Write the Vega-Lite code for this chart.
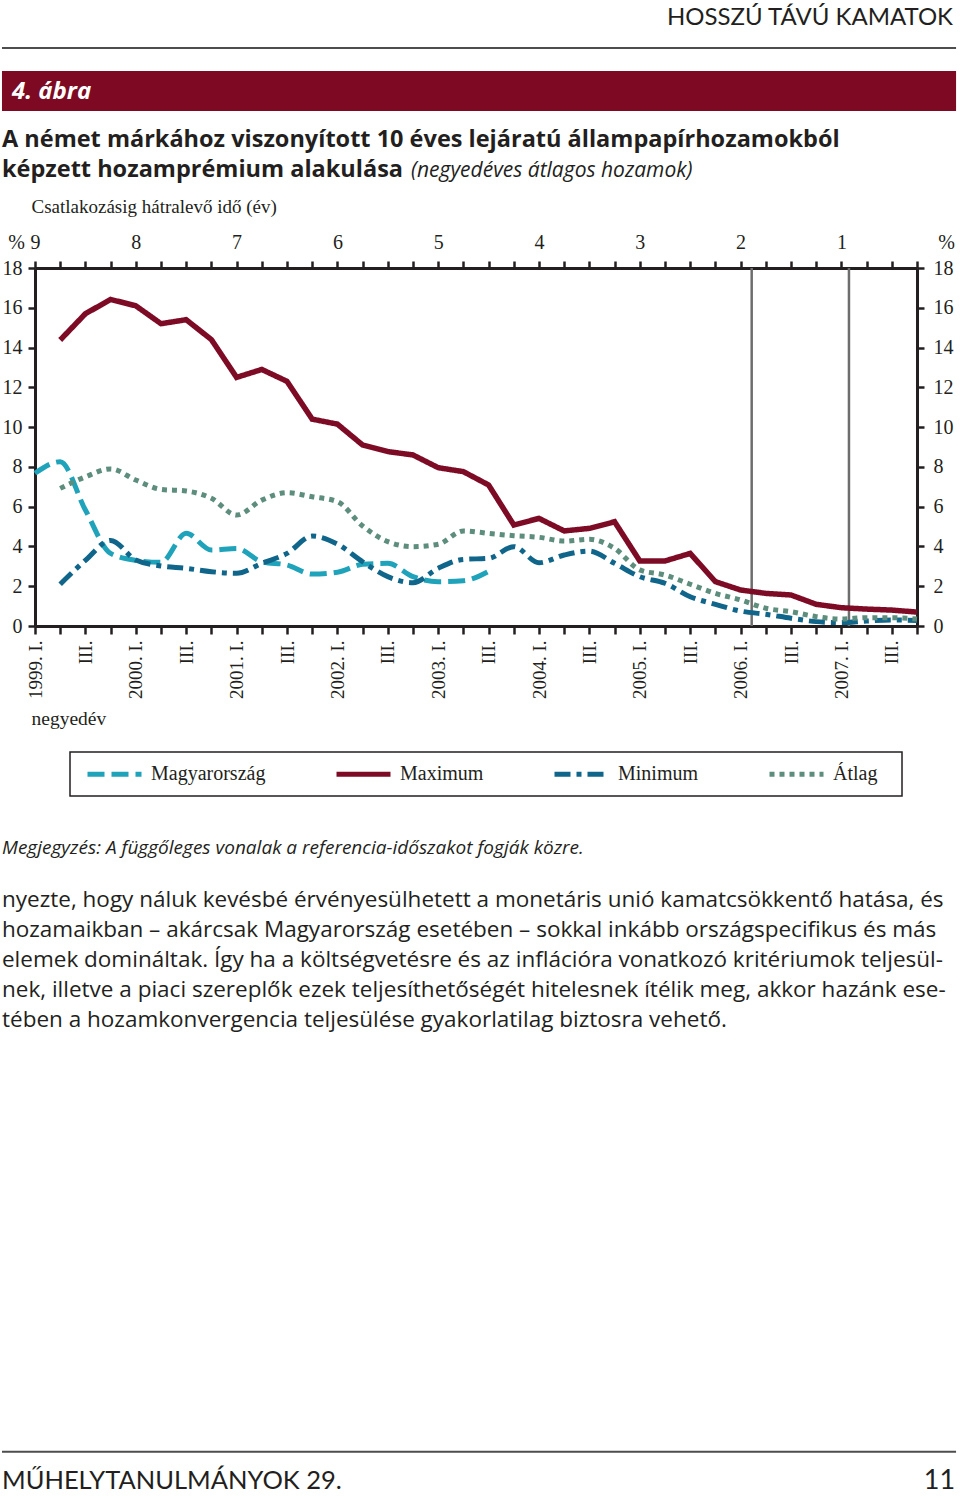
{
  "$schema": "https://vega.github.io/schema/vega-lite/v6.json",
  "autosize": {"type": "none"},
  "width": 882,
  "height": 358,
  "padding": {"left": 35, "top": 268, "right": 43, "bottom": 870},
  "background": "white",
  "config": {
    "view": {"stroke": null},
    "axis": {
      "grid": false,
      "domainColor": "#231f20",
      "domainWidth": 3,
      "tickColor": "#231f20",
      "tickWidth": 2.5,
      "tickSize": 7,
      "labelColor": "#231f20",
      "labelFont": "Liberation Serif",
      "labelFontSize": 20,
      "labelFlush": false,
      "labelOverlap": false,
      "labelBound": false,
      "titleFont": "Liberation Serif",
      "titleFontWeight": "normal",
      "titleColor": "#231f20",
      "titleFontSize": 19.5
    }
  },
  "datasets": {
    "hozam": [
      {"negyedev": 0, "sorozat": "Magyarország", "ertek": 7.68},
      {"negyedev": 1, "sorozat": "Magyarország", "ertek": 8.26},
      {"negyedev": 2, "sorozat": "Magyarország", "ertek": 5.83},
      {"negyedev": 3, "sorozat": "Magyarország", "ertek": 3.65},
      {"negyedev": 4, "sorozat": "Magyarország", "ertek": 3.3},
      {"negyedev": 5, "sorozat": "Magyarország", "ertek": 3.2},
      {"negyedev": 6, "sorozat": "Magyarország", "ertek": 4.66},
      {"negyedev": 7, "sorozat": "Magyarország", "ertek": 3.82},
      {"negyedev": 8, "sorozat": "Magyarország", "ertek": 3.9},
      {"negyedev": 9, "sorozat": "Magyarország", "ertek": 3.23},
      {"negyedev": 10, "sorozat": "Magyarország", "ertek": 3.07},
      {"negyedev": 11, "sorozat": "Magyarország", "ertek": 2.61},
      {"negyedev": 12, "sorozat": "Magyarország", "ertek": 2.7},
      {"negyedev": 13, "sorozat": "Magyarország", "ertek": 3.1},
      {"negyedev": 14, "sorozat": "Magyarország", "ertek": 3.15},
      {"negyedev": 15, "sorozat": "Magyarország", "ertek": 2.48},
      {"negyedev": 16, "sorozat": "Magyarország", "ertek": 2.23},
      {"negyedev": 17, "sorozat": "Magyarország", "ertek": 2.28},
      {"negyedev": 18, "sorozat": "Magyarország", "ertek": 2.75},
      {"negyedev": 1, "sorozat": "Maximum", "ertek": 14.38},
      {"negyedev": 2, "sorozat": "Maximum", "ertek": 15.7},
      {"negyedev": 3, "sorozat": "Maximum", "ertek": 16.42},
      {"negyedev": 4, "sorozat": "Maximum", "ertek": 16.1},
      {"negyedev": 5, "sorozat": "Maximum", "ertek": 15.2},
      {"negyedev": 6, "sorozat": "Maximum", "ertek": 15.4},
      {"negyedev": 7, "sorozat": "Maximum", "ertek": 14.4},
      {"negyedev": 8, "sorozat": "Maximum", "ertek": 12.5},
      {"negyedev": 9, "sorozat": "Maximum", "ertek": 12.9},
      {"negyedev": 10, "sorozat": "Maximum", "ertek": 12.3},
      {"negyedev": 11, "sorozat": "Maximum", "ertek": 10.4},
      {"negyedev": 12, "sorozat": "Maximum", "ertek": 10.15},
      {"negyedev": 13, "sorozat": "Maximum", "ertek": 9.1},
      {"negyedev": 14, "sorozat": "Maximum", "ertek": 8.77},
      {"negyedev": 15, "sorozat": "Maximum", "ertek": 8.6},
      {"negyedev": 16, "sorozat": "Maximum", "ertek": 7.96},
      {"negyedev": 17, "sorozat": "Maximum", "ertek": 7.76},
      {"negyedev": 18, "sorozat": "Maximum", "ertek": 7.09},
      {"negyedev": 19, "sorozat": "Maximum", "ertek": 5.08},
      {"negyedev": 20, "sorozat": "Maximum", "ertek": 5.41},
      {"negyedev": 21, "sorozat": "Maximum", "ertek": 4.78},
      {"negyedev": 22, "sorozat": "Maximum", "ertek": 4.91},
      {"negyedev": 23, "sorozat": "Maximum", "ertek": 5.24},
      {"negyedev": 24, "sorozat": "Maximum", "ertek": 3.27},
      {"negyedev": 25, "sorozat": "Maximum", "ertek": 3.27},
      {"negyedev": 26, "sorozat": "Maximum", "ertek": 3.65},
      {"negyedev": 27, "sorozat": "Maximum", "ertek": 2.23},
      {"negyedev": 28, "sorozat": "Maximum", "ertek": 1.81},
      {"negyedev": 29, "sorozat": "Maximum", "ertek": 1.64},
      {"negyedev": 30, "sorozat": "Maximum", "ertek": 1.56},
      {"negyedev": 31, "sorozat": "Maximum", "ertek": 1.09},
      {"negyedev": 32, "sorozat": "Maximum", "ertek": 0.92},
      {"negyedev": 33, "sorozat": "Maximum", "ertek": 0.85},
      {"negyedev": 34, "sorozat": "Maximum", "ertek": 0.8},
      {"negyedev": 35, "sorozat": "Maximum", "ertek": 0.7},
      {"negyedev": 1, "sorozat": "Minimum", "ertek": 2.1},
      {"negyedev": 2, "sorozat": "Minimum", "ertek": 3.3},
      {"negyedev": 3, "sorozat": "Minimum", "ertek": 4.3},
      {"negyedev": 4, "sorozat": "Minimum", "ertek": 3.32},
      {"negyedev": 5, "sorozat": "Minimum", "ertek": 3.02},
      {"negyedev": 6, "sorozat": "Minimum", "ertek": 2.9},
      {"negyedev": 7, "sorozat": "Minimum", "ertek": 2.73},
      {"negyedev": 8, "sorozat": "Minimum", "ertek": 2.65},
      {"negyedev": 9, "sorozat": "Minimum", "ertek": 3.15},
      {"negyedev": 10, "sorozat": "Minimum", "ertek": 3.65},
      {"negyedev": 11, "sorozat": "Minimum", "ertek": 4.52},
      {"negyedev": 12, "sorozat": "Minimum", "ertek": 4.12},
      {"negyedev": 13, "sorozat": "Minimum", "ertek": 3.23},
      {"negyedev": 14, "sorozat": "Minimum", "ertek": 2.48},
      {"negyedev": 15, "sorozat": "Minimum", "ertek": 2.18},
      {"negyedev": 16, "sorozat": "Minimum", "ertek": 2.9},
      {"negyedev": 17, "sorozat": "Minimum", "ertek": 3.35},
      {"negyedev": 18, "sorozat": "Minimum", "ertek": 3.4},
      {"negyedev": 19, "sorozat": "Minimum", "ertek": 3.99},
      {"negyedev": 20, "sorozat": "Minimum", "ertek": 3.18},
      {"negyedev": 21, "sorozat": "Minimum", "ertek": 3.57},
      {"negyedev": 22, "sorozat": "Minimum", "ertek": 3.77},
      {"negyedev": 23, "sorozat": "Minimum", "ertek": 3.15},
      {"negyedev": 24, "sorozat": "Minimum", "ertek": 2.48},
      {"negyedev": 25, "sorozat": "Minimum", "ertek": 2.15},
      {"negyedev": 26, "sorozat": "Minimum", "ertek": 1.47},
      {"negyedev": 27, "sorozat": "Minimum", "ertek": 1.09},
      {"negyedev": 28, "sorozat": "Minimum", "ertek": 0.75},
      {"negyedev": 29, "sorozat": "Minimum", "ertek": 0.59},
      {"negyedev": 30, "sorozat": "Minimum", "ertek": 0.39},
      {"negyedev": 31, "sorozat": "Minimum", "ertek": 0.22},
      {"negyedev": 32, "sorozat": "Minimum", "ertek": 0.17},
      {"negyedev": 33, "sorozat": "Minimum", "ertek": 0.25},
      {"negyedev": 34, "sorozat": "Minimum", "ertek": 0.3},
      {"negyedev": 35, "sorozat": "Minimum", "ertek": 0.28},
      {"negyedev": 1, "sorozat": "Átlag", "ertek": 6.92},
      {"negyedev": 2, "sorozat": "Átlag", "ertek": 7.5},
      {"negyedev": 3, "sorozat": "Átlag", "ertek": 7.9},
      {"negyedev": 4, "sorozat": "Átlag", "ertek": 7.34},
      {"negyedev": 5, "sorozat": "Átlag", "ertek": 6.87},
      {"negyedev": 6, "sorozat": "Átlag", "ertek": 6.79},
      {"negyedev": 7, "sorozat": "Átlag", "ertek": 6.42},
      {"negyedev": 8, "sorozat": "Átlag", "ertek": 5.58},
      {"negyedev": 9, "sorozat": "Átlag", "ertek": 6.33},
      {"negyedev": 10, "sorozat": "Átlag", "ertek": 6.7},
      {"negyedev": 11, "sorozat": "Átlag", "ertek": 6.5},
      {"negyedev": 12, "sorozat": "Átlag", "ertek": 6.25},
      {"negyedev": 13, "sorozat": "Átlag", "ertek": 5.03},
      {"negyedev": 14, "sorozat": "Átlag", "ertek": 4.24},
      {"negyedev": 15, "sorozat": "Átlag", "ertek": 3.99},
      {"negyedev": 16, "sorozat": "Átlag", "ertek": 4.11},
      {"negyedev": 17, "sorozat": "Átlag", "ertek": 4.78},
      {"negyedev": 18, "sorozat": "Átlag", "ertek": 4.66},
      {"negyedev": 19, "sorozat": "Átlag", "ertek": 4.54},
      {"negyedev": 20, "sorozat": "Átlag", "ertek": 4.46},
      {"negyedev": 21, "sorozat": "Átlag", "ertek": 4.27},
      {"negyedev": 22, "sorozat": "Átlag", "ertek": 4.36},
      {"negyedev": 23, "sorozat": "Átlag", "ertek": 3.9},
      {"negyedev": 24, "sorozat": "Átlag", "ertek": 2.82},
      {"negyedev": 25, "sorozat": "Átlag", "ertek": 2.56},
      {"negyedev": 26, "sorozat": "Átlag", "ertek": 2.1},
      {"negyedev": 27, "sorozat": "Átlag", "ertek": 1.64},
      {"negyedev": 28, "sorozat": "Átlag", "ertek": 1.31},
      {"negyedev": 29, "sorozat": "Átlag", "ertek": 0.89},
      {"negyedev": 30, "sorozat": "Átlag", "ertek": 0.72},
      {"negyedev": 31, "sorozat": "Átlag", "ertek": 0.47},
      {"negyedev": 32, "sorozat": "Átlag", "ertek": 0.35},
      {"negyedev": 33, "sorozat": "Átlag", "ertek": 0.42},
      {"negyedev": 34, "sorozat": "Átlag", "ertek": 0.42},
      {"negyedev": 35, "sorozat": "Átlag", "ertek": 0.35}
    ],
    "referencia": [{"negyedev": 28.44}, {"negyedev": 32.3}]
  },
  "layer": [
    {
      "data": {"name": "referencia"},
      "mark": {"type": "rule", "color": "#6d6d6d", "strokeWidth": 2.5},
      "encoding": {
        "x": {
          "field": "negyedev", "type": "quantitative",
          "scale": {"domain": [0, 35], "nice": false, "zero": false},
          "axis": {
            "orient": "top",
            "values": [0,1,2,3,4,5,6,7,8,9,10,11,12,13,14,15,16,17,18,19,20,21,22,23,24,25,26,27,28,29,30,31,32,33,34,35],
            "labelExpr": "datum.value % 4 == 0 ? '' + (9 - datum.value / 4) : ''",
            "labelAngle": 0,
            "labelPadding": 9,
            "tickSize": 7,
            "title": "Csatlakozásig hátralevő idő (év)",
            "titleAngle": 0,
            "titleAlign": "left",
            "titleBaseline": "alphabetic",
            "titleX": -4,
            "titleY": -56,
            "titleFontSize": 19
          }
        },
        "y": {
          "datum": 0, "type": "quantitative",
          "scale": {"domain": [0, 18], "nice": false},
          "axis": {
            "orient": "right",
            "values": [0, 2, 4, 6, 8, 10, 12, 14, 16, 18],
            "labelPadding": 9,
            "title": "%",
            "titleAngle": 0,
            "titleAlign": "center",
            "titleBaseline": "alphabetic",
            "titleX": 29,
            "titleY": -20,
            "titleFontSize": 20
          }
        },
        "y2": {"datum": 18}
      }
    },
    {
      "data": {"name": "hozam"},
      "transform": [{"filter": "datum.sorozat !== 'Maximum'"}],
      "mark": {"type": "line", "strokeWidth": 5, "interpolate": "monotone", "strokeCap": "butt"},
      "encoding": {
        "x": {
          "field": "negyedev", "type": "quantitative",
          "axis": {
            "orient": "bottom",
            "values": [0,1,2,3,4,5,6,7,8,9,10,11,12,13,14,15,16,17,18,19,20,21,22,23,24,25,26,27,28,29,30,31,32,33,34,35],
            "labelExpr": "datum.value % 4 == 0 ? (1999 + datum.value / 4) + '. I.' : (datum.value % 4 == 2 ? 'III.' : '')",
            "labelAngle": -90,
            "labelFontSize": 19,
            "labelPadding": 6,
            "tickSize": 8,
            "title": "negyedév",
            "titleAngle": 0,
            "titleAlign": "left",
            "titleBaseline": "alphabetic",
            "titleX": -4,
            "titleY": 98
          }
        },
        "y": {
          "field": "ertek", "type": "quantitative",
          "axis": {
            "orient": "left",
            "values": [0, 2, 4, 6, 8, 10, 12, 14, 16, 18],
            "labelPadding": 6,
            "title": "%",
            "titleAngle": 0,
            "titleAlign": "center",
            "titleBaseline": "alphabetic",
            "titleX": -19,
            "titleY": -20,
            "titleFontSize": 20
          }
        },
        "color": {
          "field": "sorozat", "type": "nominal",
          "scale": {"domain": ["Magyarország", "Maximum", "Minimum", "Átlag"], "range": ["#1ea3ba", "#7d0b25", "#10668a", "#5d8d7c"]},
          "legend": {"orient": "none", "legendX": 50, "legendY": 476.5, "direction": "horizontal", "columns": 4, "title": null, "symbolType": "stroke", "symbolSize": 2916, "symbolStrokeWidth": 5, "labelFont": "Liberation Serif", "labelFontSize": 20, "labelColor": "#231f20", "labelOffset": 7, "columnPadding": 60, "padding": 0}
        },
        "strokeDash": {
          "field": "sorozat", "type": "nominal",
          "scale": {"domain": ["Magyarország", "Maximum", "Minimum", "Átlag"], "range": [[17, 7], [1, 0], [16, 6, 5, 6], [5, 5]]},
          "legend": {"orient": "none", "legendX": 50, "legendY": 476.5, "direction": "horizontal", "columns": 4, "title": null, "symbolType": "stroke", "symbolSize": 2916, "symbolStrokeWidth": 5, "labelFont": "Liberation Serif", "labelFontSize": 20, "labelColor": "#231f20", "labelOffset": 7, "columnPadding": 60, "padding": 0}
        }
      }
    },
    {
      "data": {"name": "hozam"},
      "transform": [{"filter": "datum.sorozat === 'Maximum'"}],
      "mark": {"type": "line", "strokeWidth": 5.5, "interpolate": "linear", "strokeCap": "butt"},
      "encoding": {
        "x": {"field": "negyedev", "type": "quantitative", "axis": null},
        "y": {"field": "ertek", "type": "quantitative", "axis": null},
        "color": {"field": "sorozat", "type": "nominal"},
        "strokeDash": {"field": "sorozat", "type": "nominal"}
      }
    },
    {
      "data": {"values": [{"elem": "jelmagyarázat keret"}]},
      "mark": {"type": "rect", "fill": null, "fillOpacity": 0, "stroke": "#231f20", "strokeWidth": 1.5},
      "encoding": {
        "x": {"datum": 1.389, "type": "quantitative", "axis": null},
        "x2": {"datum": 34.405},
        "y": {"datum": -6.335, "type": "quantitative", "axis": null},
        "y2": {"datum": -8.547}
      }
    },
    {
      "data": {"values": [{"szoveg": "HOSSZÚ TÁVÚ KAMATOK"}]},
      "mark": {"type": "text", "align": "right", "baseline": "alphabetic", "font": "Lato", "fontSize": 24, "color": "#231f20"},
      "encoding": {
        "x": {"datum": 36.43, "type": "quantitative", "axis": null},
        "y": {"datum": 30.22, "type": "quantitative", "axis": null},
        "text": {"field": "szoveg"}
      }
    },
    {
      "data": {"values": [{"elem": "fejléc vonal"}]},
      "mark": {"type": "rule", "color": "#4d4d4d", "strokeWidth": 2},
      "encoding": {
        "x": {"datum": -1.31, "type": "quantitative", "axis": null},
        "x2": {"datum": 36.55},
        "y": {"datum": 29.06, "type": "quantitative", "axis": null}
      }
    },
    {
      "data": {"values": [{"elem": "ábra sáv"}]},
      "mark": {"type": "rect", "color": "#7d0a22"},
      "encoding": {
        "x": {"datum": -1.31, "type": "quantitative", "axis": null},
        "x2": {"datum": 36.55},
        "y": {"datum": 27.9, "type": "quantitative", "axis": null},
        "y2": {"datum": 25.89}
      }
    },
    {
      "data": {"values": [{"szoveg": "4. ábra"}]},
      "mark": {"type": "text", "align": "left", "baseline": "alphabetic", "font": "Open Sans", "fontSize": 24, "fontStyle": "italic", "fontWeight": "bold", "color": "white"},
      "encoding": {
        "x": {"datum": -0.913, "type": "quantitative", "axis": null},
        "y": {"datum": 26.5, "type": "quantitative", "axis": null},
        "text": {"field": "szoveg"}
      }
    },
    {
      "data": {"values": [{"szoveg": "A német márkához viszonyított 10 éves lejáratú állampapírhozamokból\nképzett hozamprémium alakulása"}]},
      "mark": {"type": "text", "align": "left", "baseline": "alphabetic", "font": "Open Sans", "fontSize": 23.5, "fontWeight": "bold", "color": "#231f20", "lineBreak": "\n", "lineHeight": 30},
      "encoding": {
        "x": {"datum": -1.31, "type": "quantitative", "axis": null},
        "y": {"datum": 24.08, "type": "quantitative", "axis": null},
        "text": {"field": "szoveg"}
      }
    },
    {
      "data": {"values": [{"szoveg": "(negyedéves átlagos hozamok)"}]},
      "mark": {"type": "text", "align": "left", "baseline": "alphabetic", "font": "Open Sans", "fontSize": 21, "fontStyle": "italic", "color": "#231f20"},
      "encoding": {
        "x": {"datum": 14.92, "type": "quantitative", "axis": null},
        "y": {"datum": 22.57, "type": "quantitative", "axis": null},
        "text": {"field": "szoveg"}
      }
    },
    {
      "data": {"values": [{"szoveg": "Megjegyzés: A függőleges vonalak a referencia-időszakot fogják közre."}]},
      "mark": {"type": "text", "align": "left", "baseline": "alphabetic", "font": "Open Sans", "fontSize": 19, "fontStyle": "italic", "color": "#231f20"},
      "encoding": {
        "x": {"datum": -1.31, "type": "quantitative", "axis": null},
        "y": {"datum": -11.46, "type": "quantitative", "axis": null},
        "text": {"field": "szoveg"}
      }
    },
    {
      "data": {"values": [{"szoveg": "nyezte, hogy náluk kevésbé érvényesülhetett a monetáris unió kamatcsökkentő hatása, és\nhozamaikban – akárcsak Magyarország esetében – sokkal inkább országspecifikus és más\nelemek domináltak. Így ha a költségvetésre és az inflációra vonatkozó kritériumok teljesül-\nnek, illetve a piaci szereplők ezek teljesíthetőségét hitelesnek ítélik meg, akkor hazánk ese-\ntében a hozamkonvergencia teljesülése gyakorlatilag biztosra vehető."}]},
      "mark": {"type": "text", "align": "left", "baseline": "alphabetic", "font": "Open Sans", "fontSize": 22.5, "color": "#231f20", "lineBreak": "\n", "lineHeight": 30},
      "encoding": {
        "x": {"datum": -1.31, "type": "quantitative", "axis": null},
        "y": {"datum": -14.13, "type": "quantitative", "axis": null},
        "text": {"field": "szoveg"}
      }
    },
    {
      "data": {"values": [{"elem": "lábléc vonal"}]},
      "mark": {"type": "rule", "color": "#4d4d4d", "strokeWidth": 2},
      "encoding": {
        "x": {"datum": -1.31, "type": "quantitative", "axis": null},
        "x2": {"datum": 36.55},
        "y": {"datum": -41.52, "type": "quantitative", "axis": null}
      }
    },
    {
      "data": {"values": [{"szoveg": "MŰHELYTANULMÁNYOK 29."}]},
      "mark": {"type": "text", "align": "left", "baseline": "alphabetic", "font": "Lato", "fontSize": 25.5, "color": "#231f20"},
      "encoding": {
        "x": {"datum": -1.31, "type": "quantitative", "axis": null},
        "y": {"datum": -43.39, "type": "quantitative", "axis": null},
        "text": {"field": "szoveg"}
      }
    },
    {
      "data": {"values": [{"szoveg": "11"}]},
      "mark": {"type": "text", "align": "right", "baseline": "alphabetic", "font": "Lato", "fontSize": 27, "color": "#231f20"},
      "encoding": {
        "x": {"datum": 36.51, "type": "quantitative", "axis": null},
        "y": {"datum": -43.39, "type": "quantitative", "axis": null},
        "text": {"field": "szoveg"}
      }
    }
  ],
  "resolve": {"axis": {"x": "independent", "y": "independent"}}
}
